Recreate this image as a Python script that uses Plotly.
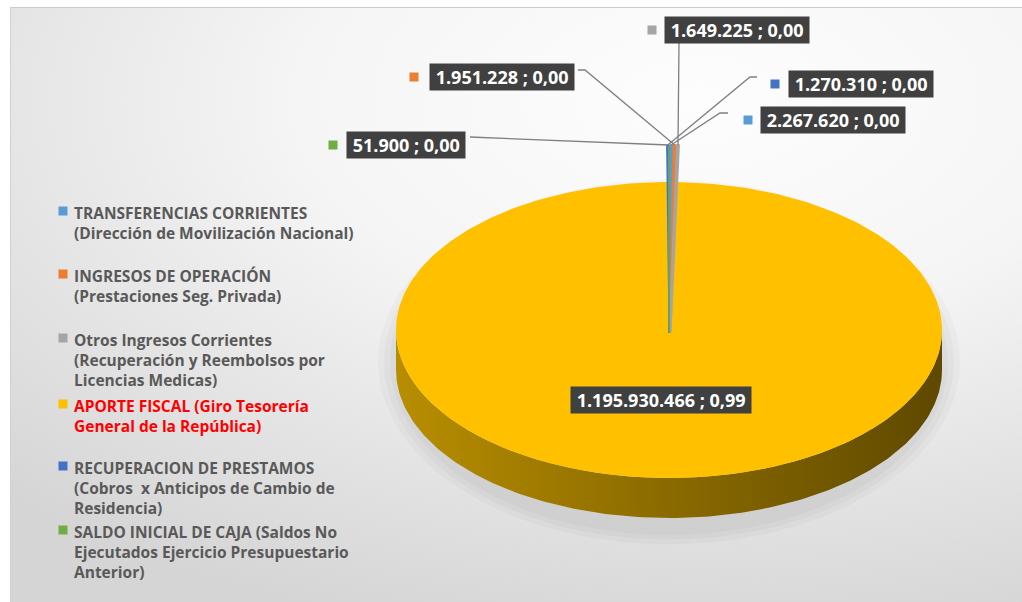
import math
import plotly.graph_objects as go

# Datos del gráfico (ingresos por fuente)
categorias = [
    "TRANSFERENCIAS CORRIENTES<br>(Dirección de Movilización Nacional)",
    "INGRESOS DE OPERACIÓN<br>(Prestaciones Seg. Privada)",
    "Otros Ingresos Corrientes<br>(Recuperación y Reembolsos por<br>Licencias Medicas)",
    "APORTE FISCAL (Giro Tesorería<br>General de la República)",
    "RECUPERACION DE PRESTAMOS<br>(Cobros  x Anticipos de Cambio de<br>Residencia)",
    "SALDO INICIAL DE CAJA (Saldos No<br>Ejecutados Ejercicio Presupuestario<br>Anterior)",
]
montos = [2267620, 1951228, 1649225, 1195930466, 1270310, 51900]
colores = ["#5B9BD5", "#ED7D31", "#A5A5A5", "#FFC000", "#4472C4", "#70AD47"]

# Geometría del pastel 3D (en píxeles de la figura)
CX, CY, RA, RB, PROF = 669, 330, 273, 148, 40
EXPLOTA = 0.25
FUENTE = "'Open Sans', sans-serif"

# Posición de las etiquetas de datos: centro, cuadrito y guía
_ETIQ = {
    0: {"c": (833, 120), "m": (748, 120), "guia": [(720, 113), (728, 113)]},
    1: {"c": (502, 77), "m": (414, 77), "guia": [(585, 70), (578, 70)]},
    2: {"c": (737, 30), "m": (652, 30), "guia": [(679, 43)]},
    4: {"c": (861, 84), "m": (775, 84), "guia": [(750, 77), (757, 77)]},
    5: {"c": (406, 145), "m": (333, 145), "guia": [(470, 137)]},
}
_LEYENDA_X = 63
_LEYENDA_Y = [211, 274, 338, 404, 466, 530]


def punto(theta, r=1.0, dx=0.0, dy=0.0):
    t = math.radians(theta)
    return CX + dx + r * RA * math.sin(t), CY + dy - r * RB * math.cos(t)


def arco(t0, t1, r=1.0, dx=0.0, dy=0.0, n=None):
    n = n or max(2, int(abs(t1 - t0) / 1.0) + 2)
    pts = [punto(t0 + (t1 - t0) * i / (n - 1), r, dx, dy) for i in range(n)]
    return [p[0] for p in pts], [p[1] for p in pts]


def fmt_miles(v):
    return f"{v:,}".replace(",", ".")


total = sum(montos)
angulos = []
acum = 0.0
for v in montos:
    a0 = acum / total * 360
    acum += v
    angulos.append((a0, acum / total * 360))

fig = go.Figure()

# Fondo del área del gráfico con degradado radial
fig.add_trace(go.Scatter(
    x=[-300, 1700, 1700, -300, -300], y=[-450, -450, 650, 650, -450],
    mode="lines", line={"width": 0}, fill="toself",
    fillgradient={"type": "radial",
                  "colorscale": [[0, "#fdfdfd"], [0.4, "#f5f5f5"], [0.75, "#e2e2e2"], [1, "#d5d5d5"]]},
    hoverinfo="skip", showlegend=False,
))

# Sombra difusa del pastel
for k in [18, 12, 6]:
    xs, ys = arco(0, 360, r=1.0)
    xs = [CX + (x - CX) * (RA + k) / RA for x in xs]
    ys = [CY + PROF * 0.8 + (y - CY) * (RB + PROF / 2 + k * 0.8) / RB for y in ys]
    fig.add_trace(go.Scatter(x=xs, y=ys, mode="lines", line={"width": 0}, fill="toself",
                             fillcolor="rgba(0,0,0,0.025)", hoverinfo="skip", showlegend=False))

# Costado (profundidad) de la mitad frontal
i_ap = montos.index(max(montos))
xs_top, ys_top = arco(90, 270)
xs_bot, ys_bot = arco(270, 90, dy=PROF)
fig.add_trace(go.Scatter(
    x=xs_top + xs_bot + [xs_top[0]], y=ys_top + ys_bot + [ys_top[0]],
    mode="lines", line={"width": 0}, fill="toself",
    fillgradient={"type": "horizontal", "start": CX - RA, "stop": CX + RA,
                  "colorscale": [[0, "#b88e00"], [0.5, "#8a6a00"], [1, "#5f4900"]]},
    hoverinfo="skip", showlegend=False,
))

# Cara superior: porción mayor
a0, a1 = angulos[i_ap]
xs, ys = arco(a0, a1)
fig.add_trace(go.Scatter(
    x=[CX] + xs + [CX], y=[CY] + ys + [CY], mode="lines", line={"width": 0},
    fill="toself", fillcolor=colores[i_ap], name=categorias[i_ap],
    hoverinfo="skip", showlegend=False,
))

# Porciones pequeñas (desplazadas hacia afuera)
for i, (t0, t1) in enumerate(angulos):
    if i == i_ap:
        continue
    tm = (t0 + t1) / 2
    dx = EXPLOTA * RA * math.sin(math.radians(tm))
    dy = -EXPLOTA * RB * math.cos(math.radians(tm))
    xs, ys = arco(t0, t1, dx=dx, dy=dy, n=3)
    fig.add_trace(go.Scatter(
        x=xs + [CX + dx, CX + dx, xs[0]], y=ys + [CY + dy + PROF, CY + dy, ys[0]],
        mode="lines", line={"width": 1.5, "color": colores[i]}, fill="toself",
        fillcolor=colores[i], hoverinfo="skip", showlegend=False,
    ))

# Líneas guía y etiquetas de datos
anots = []
for i, v in enumerate(montos):
    pct = f"{v / total:.2f}".replace(".", ",")
    texto = f"{fmt_miles(v)} ; {pct}"
    if i == i_ap:
        lx, ly = punto((angulos[i][0] + angulos[i][1]) / 2, r=0.47)
        anots.append(dict(x=lx - 6, y=ly, text=texto))
        continue
    tm = (angulos[i][0] + angulos[i][1]) / 2
    rx, ry = punto(tm, r=1 + EXPLOTA)
    guia = [(rx, ry)] + _ETIQ[i]["guia"]
    fig.add_trace(go.Scatter(x=[p[0] for p in guia], y=[p[1] for p in guia], mode="lines",
                             line={"color": "#7f7f7f", "width": 1.3},
                             hoverinfo="skip", showlegend=False))
    cx_, cy_ = _ETIQ[i]["c"]
    anots.append(dict(x=cx_, y=cy_, text=texto))
    mx, my = _ETIQ[i]["m"]
    fig.add_trace(go.Scatter(x=[mx], y=[my], mode="markers",
                             marker={"symbol": "square", "size": 9, "color": colores[i]},
                             hoverinfo="skip", showlegend=False))

for a in anots:
    fig.add_annotation(
        x=a["x"], y=a["y"], text="&nbsp;" + a["text"] + "&nbsp;", showarrow=False,
        font={"family": FUENTE, "size": 18, "color": "white", "weight": "bold"},
        bgcolor="#404040", borderpad=1,
    )

# Leyenda manual
fig.add_shape(type="rect", x0=41, y0=189, x1=370, y1=583, line={"width": 0},
              fillcolor="#ebebeb", layer="below")
fig.add_trace(go.Scatter(
    x=[_LEYENDA_X] * len(categorias), y=_LEYENDA_Y, mode="markers",
    marker={"symbol": "square", "size": 9, "color": colores},
    hoverinfo="skip", showlegend=False,
))
for i, cat in enumerate(categorias):
    fig.add_annotation(
        x=72, y=_LEYENDA_Y[i] - 11, text=cat, showarrow=False,
        xanchor="left", yanchor="top", align="left",
        font={"family": FUENTE, "size": 15.5, "weight": "bold",
              "color": "#ff0000" if i == i_ap else "#595959"},
    )

# Marco exterior blanco
fig.add_shape(type="rect", x0=0, y0=0, x1=1022, y1=7, line={"width": 0},
              fillcolor="white", layer="above")
fig.add_shape(type="rect", x0=0, y0=0, x1=10, y1=602, line={"width": 0},
              fillcolor="white", layer="above")
fig.add_shape(type="line", x0=10, y0=7.5, x1=1022, y1=7.5,
              line={"color": "#cccccc", "width": 1}, layer="above")
fig.add_shape(type="line", x0=10.5, y0=7, x1=10.5, y1=602,
              line={"color": "#c9d2da", "width": 1}, layer="above")

fig.update_layout(
    width=1022, height=602,
    margin={"t": 0, "b": 0, "l": 0, "r": 0},
    paper_bgcolor="white", plot_bgcolor="white",
    xaxis={"range": [0, 1022], "visible": False, "fixedrange": True},
    yaxis={"range": [602, 0], "visible": False, "fixedrange": True},
    showlegend=False,
)

fig.write_html("out.html", config={"displayModeBar": False},
               post_script="document.body.style.margin='0';")
